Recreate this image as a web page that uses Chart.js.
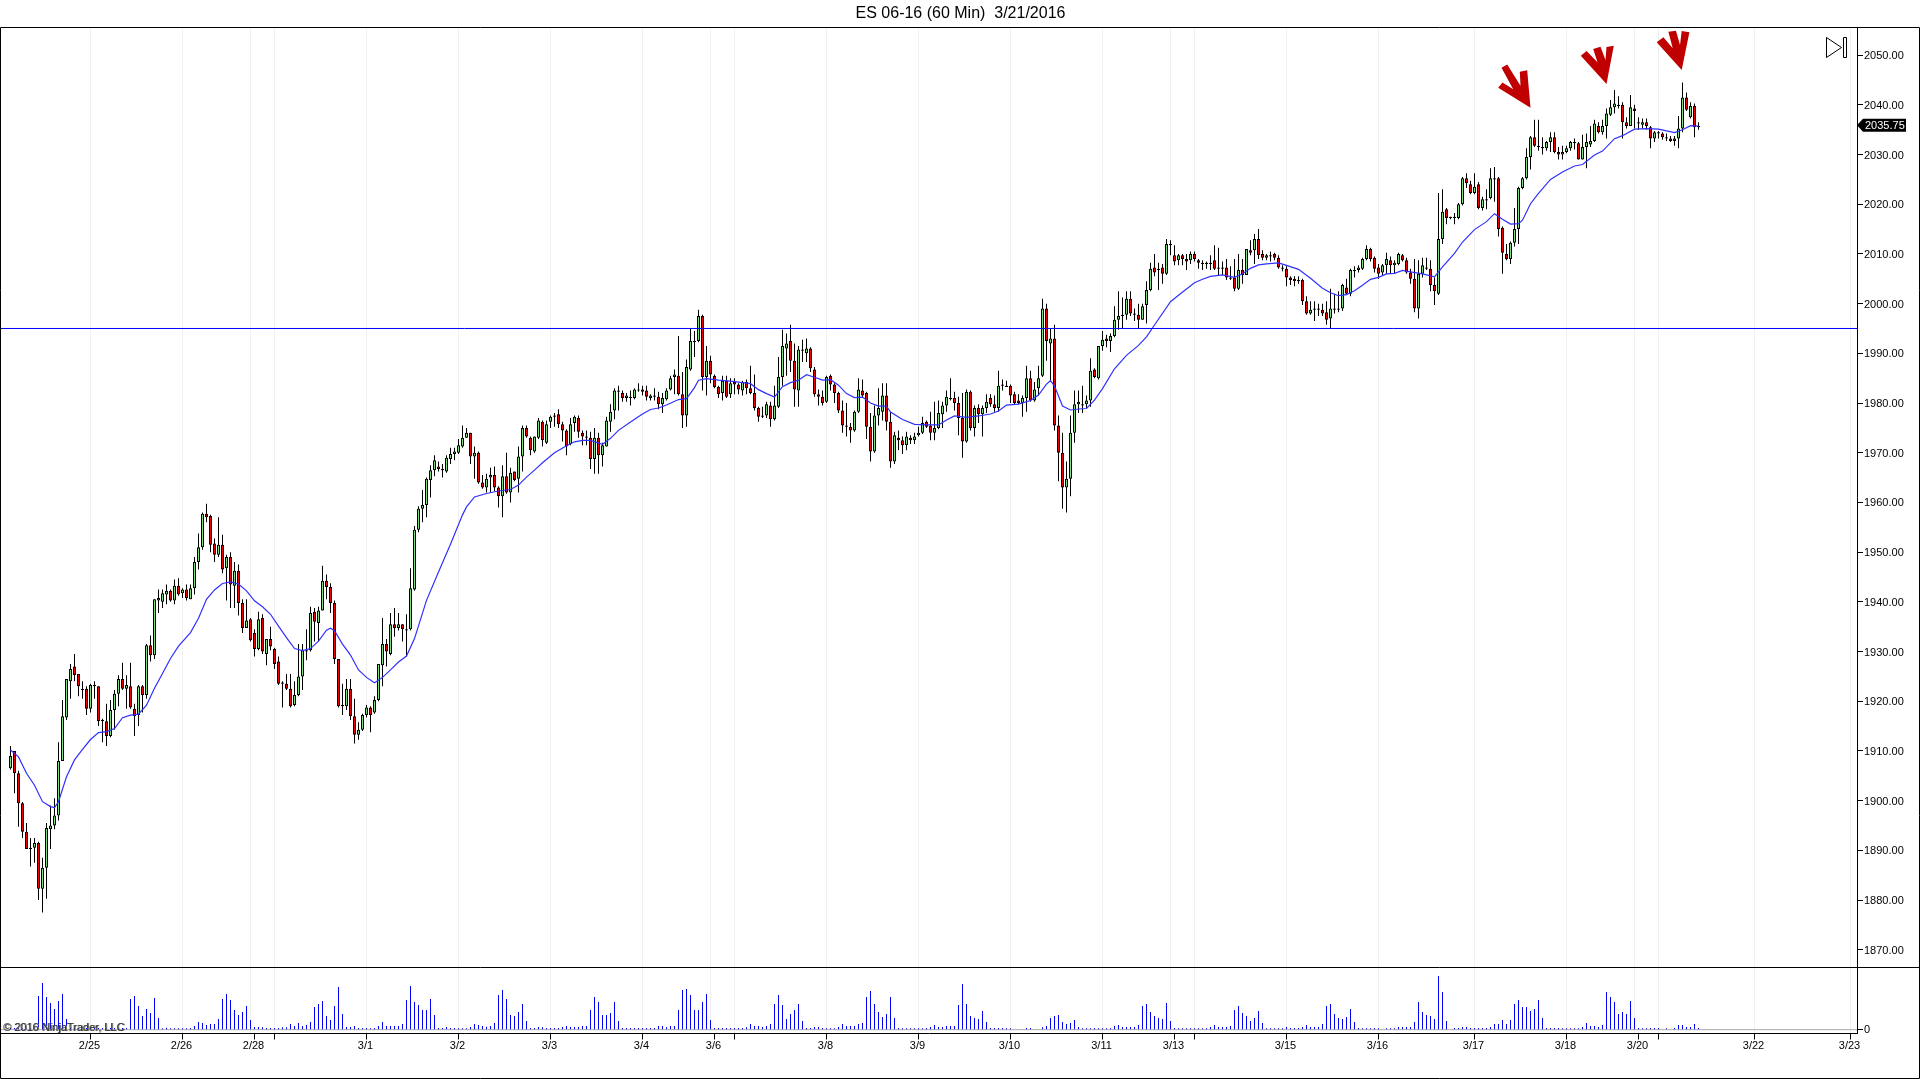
<!DOCTYPE html>
<html>
<head>
<meta charset="utf-8">
<title>ES 06-16 (60 Min)</title>
<script src="https://cdn.jsdelivr.net/npm/chart.js@4"></script>
<style>
    html, body { margin: 0; padding: 0; background: #fff; overflow: hidden; }
    canvas { display: block; }
</style>
</head>
<body>
<canvas id="chart" width="1920" height="1079"></canvas>
<script>
const opens = [
    1906.5,1910,1905.5,1899.5,1893.75,1890.5,1890.5,1891.5,1882.25,1886.5,
    1894.25,1895,1897,1908,1916.75,1924,1927,1925.5,1922.5,1922.5,
    1918.5,1923.25,1923,1916.25,1916,1913,1918.25,1921.5,1924.5,1922.5,
    1923,1918.5,1917.25,1923,1921.25,1931.25,1929.25,1940.25,1940,1941.5,
    1942.25,1940.25,1943.25,1941.75,1942.5,1940.5,1942.75,1948,1951,1957.75,
    1957.25,1951.75,1949.5,1951.5,1946.75,1949,1943.25,1946.25,1939.75,1934.75,
    1936.5,1933.75,1930.5,1936.75,1929.5,1932.5,1930.5,1928,1923.75,1923.5,
    1922.5,1919.25,1921.25,1925,1930,1930.25,1938,1935.75,1938.25,1944.25,
    1943,1939.75,1928.5,1919.25,1919,1922.5,1917,1913.25,1914.25,1917.25,
    1918.75,1917.75,1920.25,1927.25,1931.5,1929.5,1935.5,1934.75,1935.5,1934.25,
    1934.5,1942.5,1954.5,1958.75,1959.5,1964.5,1966.5,1967.25,1966.75,1966.25,
    1968.75,1969.75,1970,1971.25,1973,1974,1969.25,1970,1964,1963,
    1965,1965.5,1963,1961.25,1965.25,1962,1966.25,1964.75,1969.25,1975,
    1973,1970.25,1973,1976.25,1972,1976.25,1977.25,1977.75,1975.75,1974.5,
    1971.75,1976,1977,1974,1973.25,1973,1968.75,1973,1969.5,1971.25,
    1976.25,1978.5,1982.25,1982,1981,1981.25,1981,1982.75,1982.75,1982.5,
    1981,1981.5,1981.25,1979.75,1980.75,1982.75,1985.25,1985.5,1981.75,1977.5,
    1986.75,1992.25,1992.5,1997.5,1985.25,1988.5,1985.5,1983.25,1982,1984.5,
    1981.75,1984.25,1983.75,1982.5,1984.25,1983,1982,1979,1977.5,1977.5,
    1979.5,1976.75,1979.25,1985.25,1991,1992.5,1988.5,1982.5,1990.5,1990,
    1991,1986.75,1981.75,1981.25,1980.25,1985.5,1983.75,1982,1978.5,1975.5,
    1975.25,1974.5,1978.25,1982.5,1982,1975.25,1970.25,1977.5,1978.25,1981.5,
    1976.25,1968.25,1973,1972.5,1971.5,1973,1972.5,1973.5,1974,1976.25,
    1975.5,1974,1975,1977.75,1979.5,1981,1981,1980,1977,1972.25,
    1982.25,1975,1979,1977.75,1979,1981,1979.75,1979,1983.5,1983.5,
    1983.5,1981.75,1980.5,1980,1981,1985,1980.5,1983,1985.5,1999,
    1992,1993,1975.5,1970,1963,1964.75,1974,1979.75,1979.75,1979.75,
    1980.5,1986.75,1985,1991.5,1993,1992.5,1993.5,1996.75,1997.5,1997.75,
    2001,1998,1997.75,1996.75,1999.75,2002.75,2007.25,2006.75,2007.25,2006,
    2012,2009.75,2008.75,2009.75,2009,2008.75,2010,2008.75,2008.25,2008.25,
    2008,2008.75,2007.25,2007,2007.25,2005.25,2005.25,2003,2006.75,2005.75,
    2010.75,2010.75,2013,2010,2009.25,2009.5,2010,2009.25,2007.25,2007,
    2005.25,2005,2004.5,2004.75,2000.5,1998,1999,1998.75,1998.75,1998.25,
    1997,1998.75,1999,1999,2003.25,2002,2006.75,2006.75,2007,2009,
    2011,2009.25,2007.25,2006.25,2007.75,2008.75,2007.75,2008,2009.75,2008.75,
    2006.25,2005,1999,2006,2007.25,2007,2003.75,2002,2013,2019,
    2017.5,2017.25,2017.25,2020,2025.25,2024,2022.25,2024,2019.25,2020.75,
    2021.25,2025.25,2025.25,2015.25,2010,2009,2012.25,2015,2023.25,2025.25,
    2029.5,2033.5,2031.75,2031.25,2031.25,2032.5,2033.5,2030.5,2030,2030.5,
    2031.25,2032.25,2032.25,2029,2031.5,2032,2032.75,2035.75,2034.5,2035.75,
    2038,2039.5,2040,2040,2036.5,2035.75,2039.25,2036.5,2036,2036.5,
    2035.5,2033.25,2034.5,2034.25,2033.5,2033.25,2032.75,2033.25,2035.25,2041.5,2037.5,2039.75,2035.5
];
const highs = [
    1911,1910,1906,1899.75,1895.5,1892.5,1892.5,1891.75,1888.5,1895.5,
    1899,1900.5,1911.75,1920.25,1924.5,1927.5,1929.5,1925.5,1924,1923,
    1923.5,1924,1923,1916.5,1919.5,1920.25,1922.25,1925.25,1927.75,1925.25,
    1927.75,1919.5,1923.25,1923.25,1931.5,1933.25,1940.5,1942.5,1942.5,1943.5,
    1942.5,1944.5,1944.75,1942.75,1943.5,1943.5,1949,1953.75,1958,1959.75,
    1957.5,1952.75,1957,1953.5,1949.5,1950,1948,1947.5,1940.5,1940.5,
    1936.75,1934.5,1938,1937.5,1932.5,1935,1930.75,1929,1924,1925.5,
    1925.5,1924,1931.5,1931.5,1934.5,1939,1938.75,1939,1947.25,1945.5,
    1943.75,1940.25,1928.5,1923.5,1924.5,1924.5,1920.5,1915.75,1917.5,1919.25,
    1919,1921,1927.5,1936.75,1932.5,1937.75,1938.75,1937.75,1935.5,1937.5,
    1946.75,1955.25,1959.25,1962.5,1965,1967.5,1969.5,1968.25,1967.75,1969.5,
    1971,1971,1972.75,1975.5,1975,1974,1971.25,1970.25,1965.5,1965.75,
    1967,1967.25,1963.25,1967.5,1970,1967,1966.25,1971.25,1975.5,1975.5,
    1973.25,1973.25,1977,1976.5,1976.5,1977.5,1978,1978.75,1976.25,1974.75,
    1977,1977.5,1977.5,1974.5,1974.5,1974.25,1975,1974,1972,1977.25,
    1979.75,1983,1983.5,1982.5,1982,1982.5,1983,1984,1983.5,1983.5,
    1981.75,1983,1982.25,1982,1983,1985.5,1986.75,1993.5,1986.25,1988.75,
    1995,1994.5,1998.75,1997.75,1991.5,1989.5,1985.75,1983.5,1985.5,1985.5,
    1985,1985,1984,1984.5,1984.75,1987.5,1985.75,1979.25,1979.25,1980.25,
    1980.25,1983.5,1989.25,1994.75,1994,1995.75,1992,1991.5,1992.75,1993,
    1991.25,1987.25,1982.75,1982.5,1985.5,1985.75,1984,1982.25,1980.5,1980,
    1976,1978.5,1985,1984.75,1982.25,1978,1979.5,1983,1984,1984,
    1978.25,1974.25,1974.5,1973.25,1974.25,1973.5,1974,1975.25,1977.25,1976.5,
    1978.25,1980.25,1980.5,1980.25,1982.5,1985,1982.25,1981.25,1982,1982.75,
    1982.5,1979.5,1979.75,1979.5,1981.75,1981.75,1981.5,1986.5,1984.75,1984.5,
    1983.75,1982.25,1981.75,1981.5,1987.5,1986.5,1984.25,1987.5,2001,2000,
    1995,1995.75,1977.5,1974,1968.25,1977.5,1982.5,1982.5,1983.5,1981.5,
    1989,1987,1991.5,1994.5,1993.75,1994,1999.5,2002.5,2001.25,2002.5,
    2002.5,1999,2000,2000,2004.5,2008.25,2010,2008.25,2008,2013,
    2012.75,2011.75,2010,2010,2010,2010.5,2010.5,2009,2008.75,2008.5,
    2009.75,2011.75,2011.25,2008.5,2009,2007.5,2009,2010,2009,2011,
    2012.75,2014,2015,2010.75,2010,2010.5,2010.25,2009.75,2007.75,2007.5,
    2005.5,2005.5,2005.5,2005,2001.5,2000.5,2000.5,2000,2000,2000.5,
    2003,2002,2002.5,2004,2005,2007,2007.5,2007.75,2009.25,2011.75,
    2011.25,2009.5,2008,2008,2010.25,2009.5,2008.75,2010.25,2010,2009.25,
    2007,2009,2008.75,2009.25,2009.25,2008.75,2005.25,2022.25,2023,2019.25,
    2017.5,2018.25,2020.25,2025.5,2026.25,2024.75,2026.25,2024.5,2021.5,2023,
    2027.25,2027.5,2025.5,2015.5,2012,2012.5,2019.25,2023.5,2025.5,2031.25,
    2033.75,2037,2037,2033.5,2032.75,2034.5,2034.5,2031.5,2031.75,2031.75,
    2032.75,2033.25,2032.5,2034,2034.25,2035.75,2037,2036.5,2037,2039.25,
    2041,2043,2041.75,2040.5,2037.5,2042,2040,2037.5,2037.25,2037.25,
    2035.75,2034.75,2034.75,2034.5,2034.25,2033.75,2033.75,2037.75,2044.5,2042.5,2040.5,2040.25,2036.5
];
const lows = [
    1906.25,1901.5,1894.75,1892.5,1890.25,1886.75,1887.5,1880,1877.5,1880.25,
    1890.25,1894.25,1896,1908,1916.25,1920.5,1924,1921,1920.5,1917.25,
    1917.75,1920.5,1915,1911.75,1911,1912.75,1914.25,1919,1922.25,1918.5,
    1918.5,1913,1915,1917.75,1920.5,1928,1928.5,1937.75,1938.75,1939.5,
    1940,1939.5,1941.25,1940.75,1940.25,1940.5,1941.5,1946.5,1950.5,1956,
    1950,1948,1949,1945.75,1940.25,1938.75,1938.75,1937.25,1933.75,1934.75,
    1932,1929,1930.25,1929.5,1927.25,1930.25,1926.5,1923.25,1918.75,1922.25,
    1918.75,1919,1921,1922.25,1928.25,1930,1932,1932,1938.25,1940.5,
    1937.75,1927.5,1918.75,1917.25,1918.25,1916.25,1911.5,1912.25,1914,1916.75,
    1913.75,1917.5,1920,1923,1927,1929.25,1933,1934.25,1932,1929,
    1934.25,1942.25,1954,1956,1957,1961,1965.25,1966.25,1965,1966,
    1967.75,1968.5,1969.75,1971,1973,1967.75,1964.75,1963.75,1962.75,1962,
    1962,1962.25,1959,1957,1961.75,1960,1964.25,1962,1966.25,1973,
    1969.5,1970,1972.75,1971.25,1971.75,1975,1975.25,1975,1972.25,1969.5,
    1971.5,1974.25,1973,1971.5,1971.5,1966.75,1965.75,1965.75,1967.25,1971.25,
    1974.25,1976.75,1978.5,1980.25,1980.25,1979.5,1980.75,1982.25,1981.5,1980.5,
    1980.5,1980.5,1978.75,1978,1980.5,1982.5,1981.75,1981.5,1975,1975.25,
    1986.5,1989.25,1992.25,1982.5,1981.5,1984,1983,1981,1980.5,1981,
    1981,1981.75,1981.75,1981.5,1981.75,1981.75,1978.5,1976.25,1977,1977,
    1975.25,1976.5,1979,1983.5,1985.5,1986.25,1979.25,1979.25,1988.25,1988.25,
    1986.25,1981.25,1979.5,1979.5,1980,1982.5,1980,1978,1974,1973.25,
    1972,1974.25,1978,1981,1972.75,1968.25,1970,1975.5,1976.5,1974.5,
    1967,1967.75,1970.5,1969.75,1970.5,1971.75,1971.75,1973.25,1973.75,1975,
    1972.5,1972.5,1974.75,1975,1978.25,1980.5,1978.5,1973.5,1969,1972,
    1974.5,1973.25,1976,1973.25,1978,1979.25,1978.25,1978.25,1982.5,1983.25,
    1980,1979.75,1979.75,1977.25,1978.25,1980.25,1980.25,1981.5,1985.25,1988.5,
    1984.25,1974.5,1964.25,1958.75,1958,1961.25,1972,1978,1978,1979,
    1979.25,1985,1984.75,1990.5,1991.25,1990.25,1993.25,1994.75,1995,1996.75,
    1997.5,1996.5,1995,1996.75,1996,2002.5,2005.5,2002.75,2004,2005.75,
    2009.75,2007.75,2007.75,2007.75,2006.75,2008,2008.5,2007,2006.75,2007,
    2006.75,2006.75,2005.75,2005.75,2004.75,2004.75,2002.5,2002.75,2004,2005.75,
    2009.75,2008,2009,2008.75,2008.75,2008.5,2008.75,2007,2006.5,2003.5,
    2003.75,2003.5,2004,1999.75,1997.75,1997.75,1996.5,1997.5,1997.5,1995.75,
    1995,1998,1998.25,1998.5,2001.75,2001.5,2005.25,2006.25,2006.75,2008.75,
    2008.5,2006.25,2005,2005.75,2006,2006,2006,2007.75,2008.5,2006,
    2004,1998.25,1997,2005.25,2006.75,2002.5,1999.75,2001.75,2012,2016,
    2017,2016,2017,2019.75,2023.25,2022,2022,2019,2018.75,2019,
    2021,2020.5,2013.5,2006,2008.75,2008,2011.5,2012,2023,2025,
    2027,2031.5,2030.75,2030,2030.75,2030.5,2030.25,2029,2029,2030.25,
    2030.75,2031,2029,2029,2027.25,2031.5,2032.5,2034.25,2034,2033.25,
    2037.75,2038.25,2039.25,2033.25,2035.25,2035.75,2035.25,2035,2035.25,2035,
    2031.25,2032.5,2033.25,2033,2032.75,2032.5,2031.75,2031.25,2034.5,2038.75,2037.25,2033.5,2035
];
const closes = [
    1909,1905.5,1899.5,1893.75,1890.25,1890.25,1891.5,1882.25,1886.5,1894.5,
    1895,1897,1908,1917,1924.5,1926.5,1925.25,1923,1922.25,1918.5,
    1923.25,1923,1916,1916,1913,1918.25,1921.5,1924.5,1922.5,1923.25,
    1918.75,1917,1923,1921.25,1931.25,1929.25,1940.5,1940.75,1941.75,1942.25,
    1940.25,1943.25,1941.5,1942.5,1940.75,1942.75,1948,1951,1957.75,1957,
    1951.5,1949.5,1951.5,1946.5,1949,1943.5,1946.25,1939.75,1934.75,1936.25,
    1932.25,1930.5,1936.5,1930,1932.5,1931,1927.5,1923.5,1923.5,1922.5,
    1919,1921.25,1925,1930.25,1930.25,1937.75,1936,1938.25,1944.25,1943,
    1939.75,1928.5,1919,1919,1922.5,1917,1913.25,1914.25,1917.25,1918.75,
    1917.25,1920.25,1927.5,1931.5,1930,1935.5,1934.75,1935.5,1934.5,1934.5,
    1942.75,1954.5,1958.75,1959.5,1964.75,1966.5,1968.5,1966.75,1966.5,1969,
    1969.75,1970.25,1971.5,1973,1974,1969.25,1970,1964,1963,1964.75,
    1965.5,1963,1961.25,1965.25,1962,1966,1964.5,1969.25,1975,1973.25,
    1970.5,1973.25,1976.5,1972.5,1975.75,1977.25,1977.5,1975.75,1974.5,1971.25,
    1975.75,1977.25,1974.25,1973.25,1973,1968.75,1973,1969.5,1971.5,1976.5,
    1978.25,1982.5,1982.5,1981,1981.5,1981,1982.75,1982.5,1982.25,1981.25,
    1981.5,1981.25,1979.75,1981,1982.5,1985,1985.75,1981.75,1977.5,1987.25,
    1992.5,1992.5,1997.5,1985.25,1988.5,1985.75,1983.25,1981.75,1984.5,1981.25,
    1984,1983.75,1982.75,1984.25,1983,1982,1979,1977.25,1977.25,1979.75,
    1976.75,1979.5,1985.25,1991.5,1992,1988.5,1982.75,1990.75,1990.75,1991,
    1987,1981.75,1981.25,1980,1985.25,1983.75,1982,1978.5,1975.5,1975.25,
    1974.5,1978.25,1982.75,1981.5,1975.25,1970.25,1977.5,1979,1981.5,1976.25,
    1968.25,1973.5,1972.5,1971.5,1973.25,1972.5,1973.25,1974,1976,1975.25,
    1974,1975,1978,1979.5,1981.25,1980.75,1980,1977,1972.25,1982.25,
    1975,1979,1977.75,1979,1980.25,1979.75,1979,1983.5,1983.75,1983.25,
    1981.5,1980,1980,1981,1985,1980.5,1982.75,1985,1999,1992.5,
    1993,1975.5,1970,1963,1964.75,1974,1979.75,1980.25,1979.5,1980.5,
    1986.5,1985.25,1991.5,1992.75,1992.5,1993.5,1996.75,1997.5,1997.75,2001,
    1998,1997.75,1996.75,1999.5,2002.75,2007,2006.25,2007,2006,2012,
    2011.75,2008.5,2009.75,2009,2008.5,2010,2009,2008.25,2008,2008,
    2008.25,2007,2007,2007.25,2005.25,2005,2003,2006.75,2005.75,2011,
    2010.25,2013,2009.75,2009.25,2009.75,2009.75,2009.25,2007.25,2007,2005.25,
    2004.75,2004.5,2004.75,2000.5,1998,1998.75,1998.75,1999,1998,1996.75,
    1999,1999,1998.75,2003.75,2002,2006.75,2006.5,2007.25,2009,2011,
    2009,2007,2006,2007.75,2009,2007.75,2008.25,2010,2008.75,2006.25,
    2005,1999,2006,2007.75,2007,2003.75,2002.5,2013,2018.5,2017.25,
    2017.25,2017.5,2020,2025.25,2024.25,2022.25,2023.5,2019.25,2021,2021,
    2025.25,2025,2015,2010.25,2009,2012.25,2015,2023.25,2025.25,2029.5,
    2033.5,2031.75,2031.5,2031.5,2032.5,2033.5,2030.5,2030,2030.5,2031.25,
    2032.5,2032.5,2029,2031.5,2032.5,2032.75,2036.25,2034.5,2035.75,2038.25,
    2039.5,2040.25,2039.75,2036.5,2035.75,2039.5,2038.75,2036.25,2036.5,2035.75,
    2033.25,2034.5,2034.25,2033.5,2033.25,2032.75,2033.25,2035.25,2041.5,2039,2039.75,2035.5,2035.75
];
const volumes = [
    5,5,5,5,5,5,5,101,140,98,
    80,62,86,107,32,5,5,5,5,5,
    5,5,5,5,5,5,5,5,5,5,
    92,101,71,41,62,50,95,35,4,6,
    4,4,4,4,4,5,11,23,20,14,
    17,17,32,92,107,89,59,44,53,71,
    29,8,8,7,5,5,5,5,7,7,
    17,11,20,11,14,23,68,77,86,41,
    29,71,128,47,8,8,11,5,5,5,
    4,5,11,23,11,11,11,11,17,89,
    131,83,74,59,59,92,44,5,5,8,
    5,5,4,4,4,8,17,14,11,9,
    11,20,104,119,92,44,41,53,77,26,
    5,5,8,7,5,5,5,5,8,11,
    8,8,8,11,11,59,98,83,44,44,
    50,83,26,5,5,5,5,5,5,5,
    5,5,11,11,7,11,11,59,119,122,
    104,59,59,83,107,29,5,5,5,5,
    5,5,5,5,7,17,11,11,8,11,
    17,77,104,74,32,47,59,77,26,5,
    5,8,8,5,4,4,4,8,17,11,
    11,11,17,20,98,116,77,53,38,47,
    98,35,5,4,4,4,4,4,4,5,
    8,14,8,8,11,11,11,74,137,77,
    41,35,32,56,23,5,5,5,5,4,
    4,0,0,0,5,5,0,0,7,11,
    35,41,44,23,17,20,29,8,4,4,
    4,5,4,4,4,4,11,14,8,8,
    8,8,14,71,77,53,41,35,32,80,
    26,5,4,4,4,4,4,4,4,4,
    8,14,8,8,8,11,59,71,50,41,
    26,35,56,20,4,4,4,4,4,8,
    5,5,5,8,14,8,8,8,17,71,
    77,47,35,32,38,62,23,5,4,4,
    4,5,4,0,4,4,4,8,8,8,
    8,23,83,53,44,41,32,161,113,26,
    0,5,5,8,8,5,5,5,5,5,
    8,17,17,29,17,29,77,89,68,68,
    56,62,89,35,5,5,5,5,4,4,
    4,4,4,8,20,11,11,8,14,113,
    98,83,47,53,47,86,35,5,4,4,
    5,5,5,0,4,0,5,14,14,8,8,17,5
];

// moving average, at the bars where it could be read
const maBars = [0,2,4,6,8,10,11,12,14,16,18,20,22,24,26,28,30,32,34,36,38,40,42,45,47,49,51,53,55,57,59,61,63,65,67,69,71,73,75,77,79,80,81,83,85,87,89,91,93,95,97,99,101,
    104,107,110,113,114,116,119,122,125,127,129,131,133,136,139,141,143,145,148,150,152,155,158,160,162,164,167,169,171,172,174,177,180,183,185,187,189,191,193,195,197,199,201,
    203,205,207,209,211,213,215,217,219,220,223,226,229,232,234,236,239,242,245,247,249,252,255,257,259,260,261,263,265,267,269,271,273,276,279,282,284,286,290,292,296,
    298,300,303,306,308,310,312,314,317,319,322,325,328,330,332,334,336,338,340,342,344,346,348,350,353,356,358,361,363,366,369,371,
    373,375,377,378,380,382,385,388,391,393,396,398,401,403,406,409,412,416,418,420,422];
const maValues = [1910.2,1908.8,1905.5,1903.1,1899.8,1898.8,1898.6,1899.8,1904.8,1908.2,1910.3,1912.3,1913.7,1913.9,1914.5,1916.7,1917.2,1917.4,1919.2,1922.6,1925.6,1928.6,1931.1,1933.8,1936.7,1940.5,1942.4,1943.7,1944,1943.6,1942.2,1940.2,1939,1937.5,1935.1,1932.8,1930.6,1930.2,1930.6,1932.1,1934.3,1934.7,1934.2,1931.5,1929.3,1926.3,1924.8,1923.7,1924.8,1926.3,1927.9,1929.1,1932.6,
    1940.3,1946,1951.6,1957.5,1959.1,1961.1,1961.8,1962.3,1962.6,1963.5,1965.1,1966.5,1968,1970,1971.4,1972.2,1972.5,1972.5,1971.7,1972.9,1974.5,1976.2,1977.8,1978.7,1979,1979.6,1980.7,1980.9,1983.1,1984.6,1984.9,1984.6,1984.4,1984.1,1983.9,1982.7,1981.9,1981.2,1983.3,1984.1,1984.6,1985.7,1985.2,
    1984.6,1984.7,1983.6,1981.9,1981.1,1981.2,1980,1979.4,1979.4,1978.2,1976.7,1975.7,1975.6,1975.6,1976.6,1977.4,1977.1,1977.4,1977.8,1978.4,1979.6,1979.8,1980.5,1981.6,1983.8,1984.5,1983.4,1979.4,1978.6,1978.8,1978.9,1980.6,1982.9,1986.9,1989.6,1991.6,1993.3,1995.7,2000.4,2001.7,2004.2,
    2004.9,2005.5,2005.8,2005.3,2006,2007.1,2007.8,2008,2008.2,2007.7,2006.9,2005.1,2003.1,2002.2,2001.6,2001.8,2002.6,2003.7,2004.9,2005.3,2006,2006.1,2006.7,2006.4,2006,2005.4,2007.4,2010.1,2012.4,2014.9,2016.5,2018.1,
    2017,2016,2016.1,2016.8,2020.1,2022.2,2025,2026.5,2027.7,2028,2029.9,2030.7,2033.2,2033.8,2035.1,2035.2,2035.1,2034.4,2035,2035.8,2035.7];

const levelPrice = 1995;
const lastPrice = 2035.75;

const tickBars = [20,43,61,66,89,112,135,158,176,181,204,227,250,273,291,296,319,342,366,389,407,412,436,460];
const tickLabels = ['2/25','2/26','2/28','','3/1','3/2','3/3','3/4','3/6','','3/8','3/9','3/10','3/11','3/13','','3/15','3/16','3/17','3/18','3/20','','3/22','3/23'];
// session lines that sit one bar before the labelled tick
const gridOnlyBars = [60,175,290,406];
const noGridBars = [61,176,291,407];

// arrow tips: bar and price they point at
const arrowBars = [380,399,417.8];
const arrowPrices = [2039.4,2044.2,2047];
// outline of each arrow in px, relative to its tip
const arrowShapes = [
    [[0,0],[-32.3,-20],[-28,-25.3],[-17.3,-18.7],[-29,-40],[-23.3,-43.3],[-10,-22],[-10.7,-36],[-3.3,-37.7]],
    [[0,0],[-25.7,-28.3],[-20,-33],[-9,-21.7],[-13.3,-35],[-6,-37.3],[-1,-24],[0,-37],[7.3,-38.3]],
    [[0,0],[-25,-27.7],[-18.3,-32.7],[-9,-21.7],[-13.3,-38.3],[-5.7,-39.3],[-1.7,-25],[0,-39],[7.7,-37.7]]
];

const upColor = '#7FE27F';
const downColor = '#F00000';

const bars = opens.map((o, i) => i);
const bodyColors = bars.map(i => closes[i] >= opens[i] ? upColor : downColor);

const frame = {
    id: 'frame',
    afterDraw(chart) {
        const ctx = chart.ctx;
        const x = chart.scales.x;
        const y = chart.scales.y;
        const area = chart.chartArea;
        ctx.save();

        arrowBars.forEach((bar, n) => {
            const tipX = x.getPixelForValue(bar);
            const tipY = y.getPixelForValue(arrowPrices[n]);
            ctx.fillStyle = '#C00000';
            ctx.beginPath();
            arrowShapes[n].forEach((p, k) => {
                if (k === 0) ctx.moveTo(tipX + p[0], tipY + p[1]);
                else ctx.lineTo(tipX + p[0], tipY + p[1]);
            });
            ctx.closePath();
            ctx.fill();
        });

        ctx.strokeStyle = '#000';
        ctx.lineWidth = 1;
        ctx.beginPath();
        ctx.moveTo(0.5, 27.5); ctx.lineTo(1919.5, 27.5);
        ctx.moveTo(0.5, 967.5); ctx.lineTo(1919.5, 967.5);
        ctx.moveTo(0.5, 27.5); ctx.lineTo(0.5, 1078.5);
        ctx.lineTo(1919.5, 1078.5); ctx.lineTo(1919.5, 27.5);
        ctx.stroke();

        // go-to-end button
        ctx.beginPath();
        ctx.moveTo(1826.5, 37.5); ctx.lineTo(1841.5, 47.5); ctx.lineTo(1826.5, 57.5); ctx.closePath();
        ctx.rect(1843.5, 37.5, 3, 20);
        ctx.stroke();

        // last price flag
        const py = y.getPixelForValue(lastPrice) - 0.7;
        ctx.fillStyle = '#000';
        ctx.beginPath();
        ctx.moveTo(area.right, py);
        ctx.lineTo(area.right + 6, py - 6.5);
        ctx.lineTo(1906, py - 6.5);
        ctx.lineTo(1906, py + 6.5);
        ctx.lineTo(area.right + 6, py + 6.5);
        ctx.closePath();
        ctx.fill();
        ctx.fillStyle = '#fff';
        ctx.font = '11px "Liberation Sans"';
        ctx.textBaseline = 'middle';
        ctx.fillText(lastPrice.toFixed(2), 1865, py + 0.5);

        ctx.textBaseline = 'alphabetic';
        ctx.fillStyle = '#777';
        ctx.fillText('\u00A9 2016 NinjaTrader, LLC', 4, 1031);
        ctx.fillStyle = '#333';
        ctx.fillText('\u00A9 2016 NinjaTrader, LLC', 3, 1031);
        ctx.restore();
    }
};

Chart.defaults.font.family = '"Liberation Sans", Arial, sans-serif';
Chart.defaults.font.size = 11;
Chart.defaults.color = '#000';

new Chart(document.getElementById('chart').getContext('2d'), {
    type: 'bar',
    data: {
        datasets: [
            {
                type: 'line',
                order: 0,
                data: [{x: -3, y: levelPrice}, {x: 462, y: levelPrice}],
                borderColor: '#0000FF',
                borderWidth: 1,
                pointRadius: 0,
                yAxisID: 'y'
            },
            {
                type: 'line',
                order: 1,
                data: maBars.map((b, i) => ({x: b, y: maValues[i]})),
                borderColor: '#3030FF',
                borderWidth: 1.2,
                pointRadius: 0,
                tension: 0,
                yAxisID: 'y'
            },
            {
                order: 2,
                data: bars.map(i => ({x: i, y: [opens[i], closes[i]]})),
                backgroundColor: bodyColors,
                borderColor: '#000',
                borderWidth: 1,
                borderSkipped: false,
                inflateAmount: 0,
                maxBarThickness: 3,
                minBarLength: 1,
                yAxisID: 'y'
            },
            {
                order: 3,
                data: bars.map(i => ({x: i, y: [lows[i], highs[i]]})),
                backgroundColor: '#000',
                inflateAmount: 0,
                maxBarThickness: 1,
                yAxisID: 'y'
            },
            {
                order: 4,
                data: bars.map(i => ({x: i, y: volumes[i]})),
                backgroundColor: '#0000FF',
                inflateAmount: 0,
                maxBarThickness: 1,
                yAxisID: 'yv'
            },
            {
                type: 'line',
                order: 5,
                data: [{x: -3, y: 0}, {x: 462, y: 0}],
                borderColor: '#AAAAAA',
                borderWidth: 1,
                pointRadius: 0,
                yAxisID: 'yv'
            }
        ]
    },
    options: {
        responsive: false,
        animation: false,
        events: [],
        grouped: false,
        barPercentage: 1,
        categoryPercentage: 1,
        layout: {padding: {left: 1, top: 0, right: 0, bottom: 0}},
        plugins: {
            legend: {display: false},
            tooltip: {enabled: false},
            title: {
                display: true,
                text: 'ES 06-16 (60 Min)  3/21/2016',
                color: '#000',
                font: {size: 16, weight: 'normal'},
                padding: {top: 4, bottom: 4.3}
            }
        },
        scales: {
            x: {
                type: 'linear',
                offset: false,
                min: -2.375,
                max: 461.625,
                border: {color: '#000'},
                grid: {
                    offset: false,
                    tickLength: 6,
                    color: c => noGridBars.includes(c.tick.value) ? 'rgba(0,0,0,0)' : '#F0F0F0',
                    tickColor: c => gridOnlyBars.includes(c.tick.value) ? 'rgba(0,0,0,0)' : '#000'
                },
                ticks: {
                    autoSkip: false,
                    maxRotation: 0,
                    padding: 0,
                    labelOffset: -1,
                    callback: v => {
                        const n = tickBars.indexOf(v);
                        return n >= 0 ? tickLabels[n] : '';
                    }
                },
                afterBuildTicks: s => {
                    s.ticks = tickBars.concat(gridOnlyBars).sort((a, b) => a - b).map(v => ({value: v}));
                },
                afterFit: s => { s.height = 45.5; }
            },
            y: {
                position: 'right',
                stack: 'panels',
                stackWeight: 940,
                beginAtZero: false,
                min: 1866.428,
                max: 2055.563,
                border: {color: '#000'},
                grid: {drawOnChartArea: false, tickLength: 6, tickColor: '#000'},
                ticks: {
                    stepSize: 10,
                    includeBounds: false,
                    autoSkip: false,
                    padding: 1,
                    labelOffset: 1,
                    callback: v => v.toFixed(2)
                },
                afterFit: s => { s.width = 63; }
            },
            yv: {
                position: 'right',
                stack: 'panels',
                stackWeight: 66,
                beginAtZero: false,
                min: -11.4,
                max: 186.6,
                border: {color: '#000'},
                grid: {drawOnChartArea: false, tickLength: 6, tickColor: '#000'},
                ticks: {autoSkip: false, padding: 1, callback: v => String(v)},
                afterBuildTicks: s => { s.ticks = [{value: 0}]; },
                afterFit: s => { s.width = 63; }
            }
        }
    },
    plugins: [frame]
});
</script>
</body>
</html>
